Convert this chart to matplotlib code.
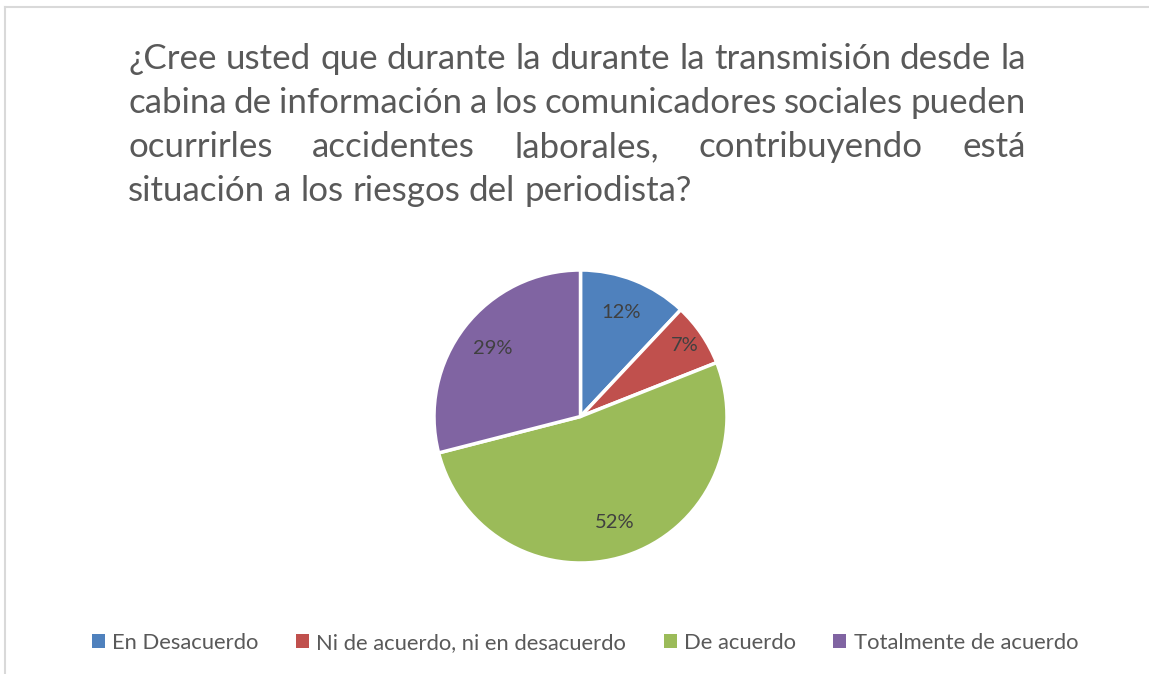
import matplotlib
matplotlib.use('Agg')
import matplotlib.pyplot as plt
from matplotlib.lines import Line2D
from matplotlib.patches import Patch

# datos
labels = ['En Desacuerdo', 'Ni de acuerdo, ni en desacuerdo', 'De acuerdo', 'Totalmente de acuerdo']
values = [12, 7, 52, 29]
colors = ['#4F81BD', '#C0504D', '#9BBB59', '#8064A2']
title_lines = [
    '¿Cree usted que durante la durante la transmisión desde la',
    'cabina de información a los comunicadores sociales pueden',
    'ocurrirles accidentes laborales, contribuyendo está',
    'situación a los riesgos del periodista?',
]

W, H = 1149, 674
plt.rcParams['font.family'] = ['Lato', 'DejaVu Sans']
fig = plt.figure(figsize=(W / 100, H / 100), dpi=100)
fig.patch.set_facecolor('white')

# marco del gráfico (solo borde izquierdo y superior visibles)
fig.add_artist(Line2D([5 / W, 5 / W], [0, 1 - 7 / H], color='#D9D9D9', lw=1.5))
fig.add_artist(Line2D([5 / W, 1], [1 - 7 / H, 1 - 7 / H], color='#D9D9D9', lw=1.5))

# título justificado
x_left, x_right = 128, 1026
baselines = [69, 113, 157, 201]
renderer = fig.canvas.get_renderer()

# ajustar tamaño para que la primera línea ocupe el ancho completo
tmp = fig.text(0, 0, title_lines[0], fontsize=20)
fsize = 20 * (x_right - x_left) / tmp.get_window_extent(renderer).width
tmp.remove()

tmp1 = fig.text(0, 0, 'a a', fontsize=fsize)
tmp2 = fig.text(0, 0, 'aa', fontsize=fsize)
space = tmp1.get_window_extent(renderer).width - tmp2.get_window_extent(renderer).width
tmp1.remove()
tmp2.remove()

for i, line in enumerate(title_lines):
    words = line.split(' ')
    objs = [fig.text(0, 0, w, fontsize=fsize, color='#595959', va='baseline', ha='left') for w in words]
    widths = [o.get_window_extent(renderer).width for o in objs]
    if i < len(title_lines) - 1 and len(words) > 1:
        gap = (x_right - x_left - sum(widths)) / (len(words) - 1)
    else:
        gap = space
    x = x_left
    for o, w in zip(objs, widths):
        o.set_position((x / W, 1 - baselines[i] / H))
        x += w + gap

# pastel
cx, cy, r = 580.5, 416.5, 146.5
ax = fig.add_axes([(cx - r) / W, 1 - (cy + r) / H, 2 * r / W, 2 * r / H])
wedges, texts, autotexts = ax.pie(
    values, colors=colors, startangle=90, counterclock=False, radius=1,
    autopct='%1.0f%%', pctdistance=0.76,
    wedgeprops=dict(edgecolor='white', linewidth=2.5),
    textprops=dict(fontsize=14.5, color='#404040'))
# la etiqueta pequeña va un poco más afuera
px, py = autotexts[1].get_position()
autotexts[1].set_position((px * 0.86 / 0.76, py * 0.86 / 0.76))
ax.set_xlim(-1, 1)
ax.set_ylim(-1, 1)
ax.set_aspect('equal')
ax.axis('off')

# leyenda
handles = [Patch(facecolor=c, edgecolor='none') for c in colors]
fig.legend(handles, labels, loc='center', bbox_to_anchor=(585 / W, 1 - 643 / H),
           ncol=4, frameon=False, fontsize=15.8, labelcolor='#595959',
           handlelength=0.6, handleheight=0.6, handletextpad=0.33, columnspacing=1.7)

fig.savefig('out.png', dpi=100)
